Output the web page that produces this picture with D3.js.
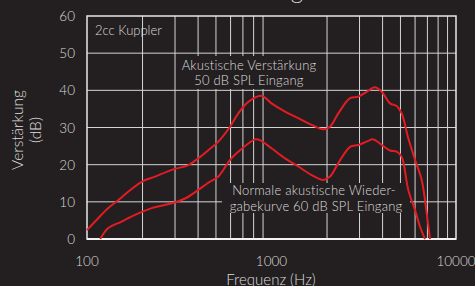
<!DOCTYPE html>
<html lang="de">
<head>
<meta charset="utf-8">
<title>Verstärkung</title>
<style>
  body { margin: 0; background: #231f20; }
  svg { display: block; }
  svg text { font-family: Lato, "Open Sans", sans-serif; font-weight: 300; fill: #dcdcdc; }
  .grid line { stroke: #d4d4d4; stroke-width: 1; }
  .curve { fill: none; stroke: #e31b23; stroke-width: 2; }
</style>
</head>
<body>
<svg id="chart" width="475" height="286"></svg>
<script src="https://cdn.jsdelivr.net/npm/d3@7"></script>
<script>

// upper curve: 50 dB SPL input
var freq50 = [100, 115, 130, 148, 167, 198, 234, 288, 354, 401, 450, 515, 596, 661, 749, 885, 1000, 1184, 1397, 1651, 1909, 2075, 2302, 2665, 2954, 3281, 3639, 3958, 4388, 4771, 5077, 5513, 5997, 6518, 6937, 7230];
var gain50 = [2.4, 5.6, 8.3, 10.5, 12.7, 15.4, 16.8, 18.6, 19.9, 21.7, 23.7, 26.2, 30.2, 33.8, 36.9, 38.5, 36.5, 34.3, 32.5, 30.7, 29.5, 30.2, 33.8, 37.9, 38.3, 39.6, 40.8, 39.6, 36.5, 35.8, 33.8, 27.1, 21.3, 15.9, 6.9, 0];

// lower curve: 60 dB SPL input
var freq60 = [118, 130, 154, 182, 224, 288, 340, 401, 450, 515, 596, 661, 749, 814, 866, 1000, 1184, 1397, 1651, 1909, 2075, 2302, 2665, 2954, 3281, 3563, 3958, 4388, 4771, 5077, 5513, 5997, 6383, 6792];
var gain60 = [0, 2.9, 4.7, 6.5, 8.3, 9.6, 10.9, 13.2, 15.0, 16.8, 21.3, 23.5, 25.7, 26.8, 26.6, 24.4, 21.7, 19.5, 17.2, 15.9, 16.8, 20.4, 24.8, 25.3, 26.2, 26.8, 25.3, 23.8, 23.5, 22.1, 13.2, 7.8, 3.3, 0];

var xTicks = [100, 1000, 10000];
var yTicks = [0, 10, 20, 30, 40, 50, 60];
var xGrid = [200, 300, 400, 500, 600, 700, 800, 900, 2000, 3000, 4000, 5000, 6000, 7000, 8000, 9000];

var pL = 87, pR = 456, pT = 16, pB = 239;

var svg = d3.select("#chart");

var x = d3.scaleLog().domain([100, 10000]).range([pL, pR]);
var y = d3.scaleLinear().domain([0, 60]).range([pB, pT]);

// cut-off title above the frame
svg.append("text")
  .attr("x", 303).attr("y", -1)
  .attr("text-anchor", "end")
  .style("font-size", "24px")
  .text("Verstärkung");

// grid
var grid = svg.append("g").attr("class", "grid");
grid.selectAll(".v").data(xGrid).enter().append("line")
  .attr("x1", x).attr("x2", x)
  .attr("y1", pT).attr("y2", pB);
grid.selectAll(".h").data(yTicks.slice(1, -1)).enter().append("line")
  .attr("x1", pL).attr("x2", pR)
  .attr("y1", y).attr("y2", y);

// frame
svg.append("rect")
  .attr("x", pL).attr("y", pT)
  .attr("width", pR - pL).attr("height", pB - pT)
  .attr("fill", "none").attr("stroke", "#e8e8e8").attr("stroke-width", 1.5);
svg.append("line")
  .attr("x1", pL).attr("x2", pR)
  .attr("y1", pB).attr("y2", pB)
  .attr("stroke", "#f2f2f2").attr("stroke-width", 2);

// label boxes (hide the grid behind the text)
svg.append("rect").attr("x", 179).attr("y", 56).attr("width", 143).attr("height", 33).attr("fill", "#231f20");
svg.append("rect").attr("x", 222).attr("y", 183).attr("width", 188).attr("height", 30).attr("fill", "#231f20");

// curves
var line = d3.line()
  .x(function(d) { return x(d[0]); })
  .y(function(d) { return y(d[1]); })
  .curve(d3.curveCatmullRom.alpha(0.5));

svg.append("path").attr("class", "curve")
  .attr("d", line(d3.zip(freq50, gain50)));
svg.append("path").attr("class", "curve")
  .attr("d", line(d3.zip(freq60, gain60)));

// tick labels
svg.selectAll(".ylab").data(yTicks).enter().append("text")
  .attr("x", 75).attr("y", function(d) { return y(d) + 5; })
  .attr("text-anchor", "end")
  .style("font-size", "13.5px")
  .text(function(d) { return d; });

svg.selectAll(".xlab").data(xTicks).enter().append("text")
  .attr("x", x).attr("y", 265.5)
  .attr("text-anchor", "middle")
  .style("font-size", "13.5px")
  .text(function(d) { return d; });

// axis titles
svg.append("text")
  .attr("x", 271).attr("y", 285)
  .attr("text-anchor", "middle")
  .style("font-size", "15px")
  .text("Frequenz (Hz)");

var yt = svg.append("text")
  .attr("transform", "translate(23,130) rotate(-90)")
  .attr("text-anchor", "middle")
  .style("font-size", "15.5px");
yt.append("tspan").attr("x", 0).attr("y", 0).text("Verstärkung");
yt.append("tspan").attr("x", 0).attr("y", 17.5).text("(dB)");

// annotations
svg.append("text")
  .attr("x", 95).attr("y", 35)
  .style("font-size", "13px")
  .text("2cc Kuppler");

var a1 = svg.append("text").attr("text-anchor", "middle")
  .style("font-size", "13px").style("letter-spacing", "0.2px");
a1.append("tspan").attr("x", 249).attr("y", 70).text("Akustische Verstärkung");
a1.append("tspan").attr("x", 249).attr("y", 85).text("50 dB SPL Eingang");

var a2 = svg.append("text").attr("text-anchor", "middle")
  .style("font-size", "13px").style("letter-spacing", "0.2px");
a2.append("tspan").attr("x", 314).attr("y", 195).text("Normale akustische Wieder-");
a2.append("tspan").attr("x", 316).attr("y", 211).text("gabekurve 60 dB SPL Eingang");

</script>
</body>
</html>
